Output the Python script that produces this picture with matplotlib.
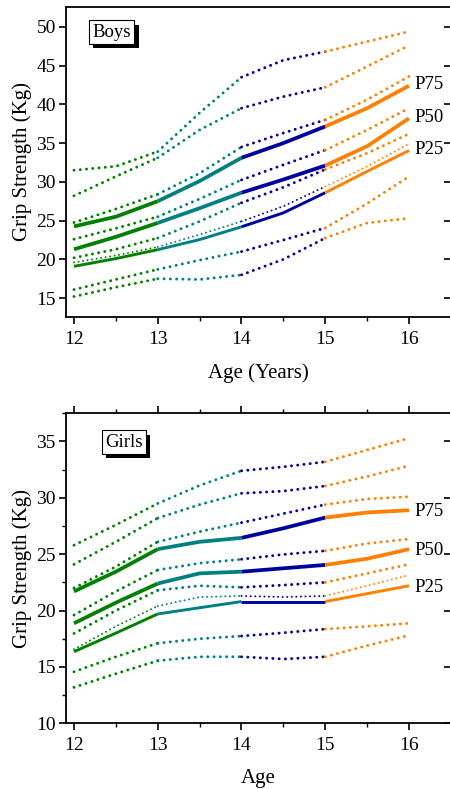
import matplotlib
matplotlib.use("Agg")
import matplotlib.pyplot as plt
import matplotlib.patheffects as pe
from matplotlib.ticker import MultipleLocator

plt.rcParams['font.family'] = ['Liberation Serif', 'DejaVu Serif']

# ages sampled at half-year steps, segments are 12-13, 13-14, 14-15, 15-16
ages = [12, 12.5, 13, 13.5, 14, 14.5, 15, 15.5, 16]
seg_colors = ['#008000', '#008080', '#0000a0', '#ff8000']

# Boys (kg)
boys_d1 = [31.5, 32.0, 33.9, 38.9, 43.5, 45.7, 46.8, 48.1, 49.4]
boys_d2 = [28.2, 30.7, 33.1, 36.7, 39.5, 41.0, 42.2, 44.9, 47.6]
boys_d3 = [24.75, 26.5, 28.4, 31.1, 34.5, 36.3, 38.0, 40.6, 43.6]
boys_p75 = [24.25, 25.5, 27.5, 30.1, 33.1, 35.0, 37.15, 39.5, 42.4]
boys_d4 = [22.6, 24.0, 25.5, 27.8, 30.25, 32.2, 34.1, 36.7, 39.5]
boys_p50 = [21.3, 22.9, 24.7, 26.6, 28.6, 30.3, 32.1, 34.6, 38.2]
boys_d5 = [20.2, 21.3, 22.75, 24.9, 27.3, 29.3, 31.6, 33.7, 36.2]
boys_thin = [19.6, 20.5, 21.6, 23.2, 24.9, 26.85, 29.4, 32.0, 34.9]
boys_p25 = [19.1, 20.1, 21.25, 22.55, 24.2, 26.0, 28.6, 31.35, 34.05]
boys_d6 = [16.1, 17.4, 18.7, 19.9, 21.0, 22.5, 24.05, 27.2, 30.7]
boys_d7 = [15.2, 16.4, 17.5, 17.4, 18.0, 20.0, 22.75, 24.7, 25.3]

# Girls (kg)
girls_d1 = [25.8, 27.6, 29.5, 31.1, 32.4, 32.75, 33.2, 34.25, 35.3]
girls_d2 = [24.1, 26.1, 28.2, 29.4, 30.4, 30.6, 31.05, 31.9, 32.85]
girls_d3 = [22.0, 23.9, 26.1, 27.0, 27.8, 28.6, 29.4, 29.9, 30.1]
girls_p75 = [21.7, 23.45, 25.45, 26.1, 26.45, 27.3, 28.25, 28.7, 28.9]
girls_d4 = [19.6, 21.7, 23.6, 24.2, 24.55, 24.98, 25.3, 25.95, 26.35]
girls_p50 = [18.87, 20.7, 22.4, 23.3, 23.45, 23.75, 24.05, 24.6, 25.45]
girls_d5 = [17.97, 20.0, 21.8, 22.2, 22.06, 22.26, 22.5, 23.3, 24.1]
girls_thin = [16.56, 18.6, 20.4, 21.2, 21.3, 21.2, 21.3, 22.2, 23.15]
girls_p25 = [16.35, 18.0, 19.7, 20.25, 20.8, 20.8, 20.8, 21.5, 22.2]
girls_d6 = [14.57, 15.9, 17.1, 17.5, 17.74, 18.03, 18.36, 18.6, 18.87]
girls_d7 = [13.19, 14.4, 15.55, 15.9, 15.9, 15.7, 15.9, 16.9, 17.8]

pct_labels = ['P75', 'P50', 'P25']


def draw_line(ax, y, kind):
    for i, c in enumerate(seg_colors):
        xs = ages[2 * i:2 * i + 3]
        ys = y[2 * i:2 * i + 3]
        if kind == 'solid':
            ax.plot(xs, ys, color=c, lw=2.7, solid_capstyle='butt', zorder=3)
        elif kind == 'solid_thin':
            ax.plot(xs, ys, color=c, lw=2.1, solid_capstyle='butt', zorder=3)
        elif kind == 'dot':
            ax.plot(xs, ys, color=c, lw=2.1, ls=(0, (0.05, 2.1)),
                    dash_capstyle='round', zorder=2)
        else:
            ax.plot(xs, ys, color=c, lw=1.4, ls=(0, (0.05, 2.3)),
                    dash_capstyle='round', zorder=2)


def style_axes(ax, ylim, top_ticks, y_minor):
    ax.set_xlim(11.9, 16.5)
    ax.set_ylim(*ylim)
    for s in ax.spines.values():
        s.set_linewidth(1.3)
    ax.spines['right'].set_visible(False)
    ax.xaxis.set_major_locator(MultipleLocator(1))
    ax.xaxis.set_minor_locator(MultipleLocator(0.5))
    ax.yaxis.set_major_locator(MultipleLocator(5))
    if y_minor:
        ax.yaxis.set_minor_locator(MultipleLocator(2.5))
    ax.tick_params(axis='x', which='major', direction='out', length=5, width=1.2,
                   top=top_ticks, labelsize=14, pad=5)
    ax.tick_params(axis='x', which='minor', direction='out', length=3, width=1.0,
                   top=top_ticks)
    ax.tick_params(axis='y', which='major', direction='out', length=5, width=1.2,
                   labelsize=14, pad=2)
    ax.tick_params(axis='y', which='minor', direction='out', length=3, width=1.0)
    # right side ticks only, the right frame line sits past the image edge
    sec = ax.secondary_yaxis('right')
    sec.spines['right'].set_visible(False)
    sec.yaxis.set_major_locator(MultipleLocator(5))
    sec.tick_params(direction='in', length=5, width=1.2, labelright=False)


def label_box(ax, x, y, txt):
    t = ax.text(x, y, txt, transform=ax.transAxes, fontsize=13.5, ha='center', va='center',
                bbox=dict(boxstyle='square,pad=0.18', fc='white', ec='black', lw=0.8),
                zorder=5)
    t.get_bbox_patch().set_path_effects([
        pe.withSimplePatchShadow(offset=(3, -3.2), shadow_rgbFace='black', alpha=1.0)])


W, H = 450, 789
fig = plt.figure(figsize=(W / 100, H / 100), dpi=100)
ax1 = fig.add_axes([65.6 / W, 1 - 316.7 / H, 385.3 / W, 310 / H])
ax2 = fig.add_axes([65.6 / W, 1 - 723.3 / H, 385.3 / W, 310 / H])

boys = [(boys_d1, 'dot'), (boys_d2, 'dot'), (boys_d3, 'dot'), (boys_p75, 'solid'),
        (boys_d4, 'dot'), (boys_p50, 'solid'), (boys_d5, 'dot'), (boys_thin, 'thin'),
        (boys_p25, 'solid_thin'), (boys_d6, 'dot'), (boys_d7, 'dot')]
girls = [(girls_d1, 'dot'), (girls_d2, 'dot'), (girls_d3, 'dot'), (girls_p75, 'solid'),
         (girls_d4, 'dot'), (girls_p50, 'solid'), (girls_d5, 'dot'), (girls_thin, 'thin'),
         (girls_p25, 'solid_thin'), (girls_d6, 'dot'), (girls_d7, 'dot')]

for y, k in boys:
    draw_line(ax1, y, k)
for y, k in girls:
    draw_line(ax2, y, k)

style_axes(ax1, (12.6, 52.6), False, False)
style_axes(ax2, (10, 37.5), True, True)

for lab, y in zip(pct_labels, [boys_p75[-1], boys_p50[-1], boys_p25[-1]]):
    ax1.text(16.07, y + 0.1, lab, fontsize=13.5, va='center', ha='left')
for lab, y in zip(pct_labels, [girls_p75[-1], girls_p50[-1], girls_p25[-1]]):
    ax2.text(16.07, y - 0.15, lab, fontsize=13.5, va='center', ha='left')

label_box(ax1, 0.12, 0.918, 'Boys')
label_box(ax2, 0.152, 0.907, 'Girls')

ax1.set_ylabel('Grip Strength (Kg)', fontsize=15, labelpad=3)
ax2.set_ylabel('Grip Strength (Kg)', fontsize=15, labelpad=3)
ax1.set_xlabel('Age (Years)', fontsize=15, labelpad=11)
ax2.set_xlabel('Age', fontsize=15, labelpad=11)

fig.savefig('out.png', dpi=100)
